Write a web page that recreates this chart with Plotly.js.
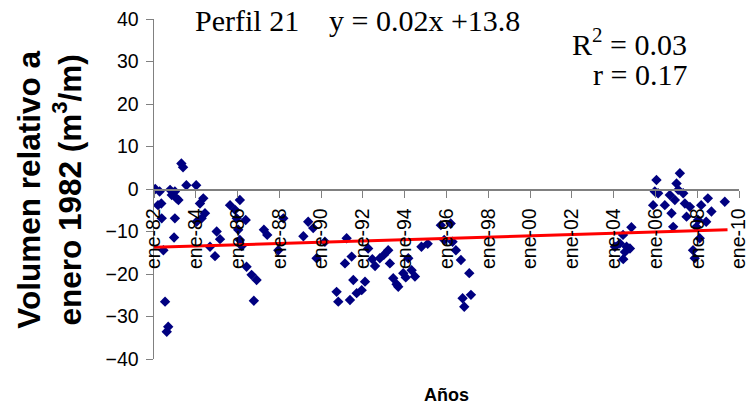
<!DOCTYPE html>
<html>
<head>
<meta charset="utf-8">
<script src="https://cdn.plot.ly/plotly-3.0.1.min.js"></script>
<style>html,body{margin:0;padding:0;background:#fff;}#chart{width:753px;height:406px;}</style>
</head>
<body>
<div id="chart"></div>
<script>
// Decimal years of the surveys
const fechas = [
  1982.06, 1982.27, 1982.19, 1982.35, 1982.37, 1982.45, 1982.53, 1982.68, 1982.61, 1982.77,
  1983.00, 1982.85, 1983.08, 1983.17, 1983.00, 1982.96, 1983.31, 1983.39, 1983.55, 1984.02,
  1984.20, 1984.36, 1984.44, 1984.28, 1984.04, 1984.68, 1984.92, 1985.00, 1985.16, 1985.64,
  1986.11, 1985.88, 1985.96, 1986.03, 1986.11, 1986.20, 1986.43, 1986.67, 1986.91, 1986.78,
  1986.39, 1987.26, 1987.42, 1987.95, 1988.19, 1989.15, 1989.38, 1989.62, 1989.78, 1990.18,
  1990.74, 1990.82, 1991.22, 1991.14, 1991.46, 1991.54, 1991.38, 1991.70, 1991.94, 1992.10,
  1992.25, 1992.45, 1992.58, 1992.81, 1993.00, 1993.21, 1993.29, 1993.45, 1993.61, 1993.69,
  1993.93, 1994.05, 1994.33, 1994.49, 1994.17, 1994.80, 1995.10, 1995.73, 1996.20, 1995.89,
  1996.29, 1996.45, 1996.69, 1997.09, 1996.77, 1997.17, 1996.85,
  2004.06, 2004.30, 2004.45, 2004.85, 2004.62, 2004.78, 2004.54, 2004.46,
  2005.97, 2006.05, 2006.13, 2005.89, 2006.45, 2006.69, 2007.01, 2007.17, 2007.09, 2007.33,
  2006.93, 2007.41, 2006.77, 2007.65, 2007.49, 2006.85, 2007.96, 2008.04, 2008.19, 2008.51,
  2008.68, 2008.43, 2008.12, 2007.80, 2007.88, 2009.32
];
// Relative volume (m3/m)
const volumen = [
  0.0, -0.6, -3.8, -3.4, -6.9, -14.4, -26.5, -32.4, -33.6, -0.2,
  -0.6, -1.4, -2.2, -2.6, -6.9, -11.4, 6.0, 5.1, 0.9, 0.9,
  -3.4, -2.2, -5.7, -6.9, -7.7, -13.6, -15.8, -10.0, -11.8, -3.8,
  -2.6, -4.9, -6.9, -9.6, -12.0, -13.4, -18.3, -20.2, -21.4, -26.3,
  -7.3, -9.6, -10.8, -14.4, -6.9, -11.1, -7.7, -9.2, -16.3, -12.4,
  -24.2, -26.5, -11.6, -17.5, -15.9, -21.4, -26.1, -24.5, -23.8, -21.8,
  -14.0, -16.5, -18.1, -16.3, -15.5, -14.4, -17.5, -21.0, -22.4, -23.0,
  -19.8, -20.8, -19.1, -20.6, -16.3, -13.6, -12.9, -8.5, -8.1, -12.0,
  -12.4, -14.4, -16.7, -19.8, -25.7, -24.9, -27.7,
  -13.6, -12.8, -10.8, -9.0, -13.6, -14.0, -14.8, -16.5,
  -0.6, 2.1, -1.0, -3.8, -3.8, -1.4, 1.3, 3.7, -0.2, -1.0,
  -2.6, -3.4, -5.7, -4.2, -6.5, -8.9, -8.9, -7.3, -3.8, -2.2,
  -5.3, -7.7, -11.6, -14.4, -16.3, -3.0
];
// Linear trend end points
const tendenciaX = [1982.0, 2009.45];
const tendenciaY = [-13.7, -9.6];

const tickAnios = [1982, 1984, 1986, 1988, 1990, 1992, 1994, 1996, 1998, 2000, 2002, 2004, 2006, 2008, 2010];
const tickTextos = ['ene-82','ene-84','ene-86','ene-88','ene-90','ene-92','ene-94','ene-96','ene-98','ene-00','ene-02','ene-04','ene-06','ene-08','ene-10'];
const yTicks = [-40, -30, -20, -10, 0, 10, 20, 30, 40];

const sans = 'Arial, "Liberation Sans", sans-serif';
const serif = '"Times New Roman", "Liberation Serif", serif';

const data = [
  {
    x: fechas, y: volumen, type: 'scatter', mode: 'markers',
    marker: {symbol: 'diamond', size: 8, color: '#000080'},
    hoverinfo: 'x+y', showlegend: false
  },
  {
    x: tendenciaX, y: tendenciaY, type: 'scatter', mode: 'lines',
    line: {color: '#ff0000', width: 3}, showlegend: false
  }
];

const layout = {
  width: 753, height: 406,
  margin: {l: 154, r: 14, t: 19, b: 47},
  paper_bgcolor: '#ffffff', plot_bgcolor: '#ffffff',
  showlegend: false,
  font: {family: sans, color: '#000000'},
  xaxis: {
    range: [1982, 2010],
    anchor: 'free', position: 0.5,
    tickmode: 'array', tickvals: tickAnios, ticktext: tickTextos,
    tickangle: -90,
    tickfont: {family: sans, size: 19.5, color: '#000000'},
    ticklabelstandoff: 3,
    ticks: 'outside', ticklen: 7, tickcolor: '#808080', tickwidth: 1,
    showline: true, linecolor: '#808080', linewidth: 1.5,
    showgrid: false, zeroline: false
  },
  yaxis: {
    range: [-40, 40],
    tickmode: 'array', tickvals: yTicks,
    tickfont: {family: sans, size: 19.5, color: '#000000'},
    ticklabelstandoff: 3,
    ticks: 'outside', ticklen: 7, tickcolor: '#808080', tickwidth: 1,
    showline: true, linecolor: '#808080', linewidth: 1.5,
    showgrid: false, zeroline: false
  },
  annotations: [
    {text: 'Volumen relativo a<br>enero 1982 (m<sup>3</sup>/m)', xref: 'paper', yref: 'paper',
     x: -0.18, y: 0.497, xanchor: 'center', yanchor: 'middle', textangle: -90, showarrow: false,
     font: {family: sans, size: 31.5, color: '#000000', weight: 'bold'}},
    {text: '<b>Años</b>', xref: 'paper', yref: 'paper', x: 0.5, y: (359 - 395) / 340,
     xanchor: 'center', yanchor: 'middle', showarrow: false,
     font: {family: sans, size: 18, color: '#000000'}},
    {text: 'Perfil 21', xref: 'paper', yref: 'paper', x: (193 - 154) / 585, y: (359 - 21) / 340,
     xanchor: 'left', yanchor: 'middle', showarrow: false,
     font: {family: serif, size: 30, color: '#000000'}},
    {text: 'y = 0.02x +13.8', xref: 'paper', yref: 'paper', x: (327 - 154) / 585, y: (359 - 21) / 340,
     xanchor: 'left', yanchor: 'middle', showarrow: false,
     font: {family: serif, size: 30, color: '#000000'}},
    {text: 'R<sup>2</sup> = 0.03', xref: 'paper', yref: 'paper', x: (689 - 154) / 585, y: (359 - 42) / 340,
     xanchor: 'right', yanchor: 'middle', showarrow: false,
     font: {family: serif, size: 30, color: '#000000'}},
    {text: 'r = 0.17', xref: 'paper', yref: 'paper', x: (689 - 154) / 585, y: (359 - 74) / 340,
     xanchor: 'right', yanchor: 'middle', showarrow: false,
     font: {family: serif, size: 30, color: '#000000'}}
  ]
};

Plotly.newPlot('chart', data, layout, {staticPlot: true, displayModeBar: false});
</script>
</body>
</html>
